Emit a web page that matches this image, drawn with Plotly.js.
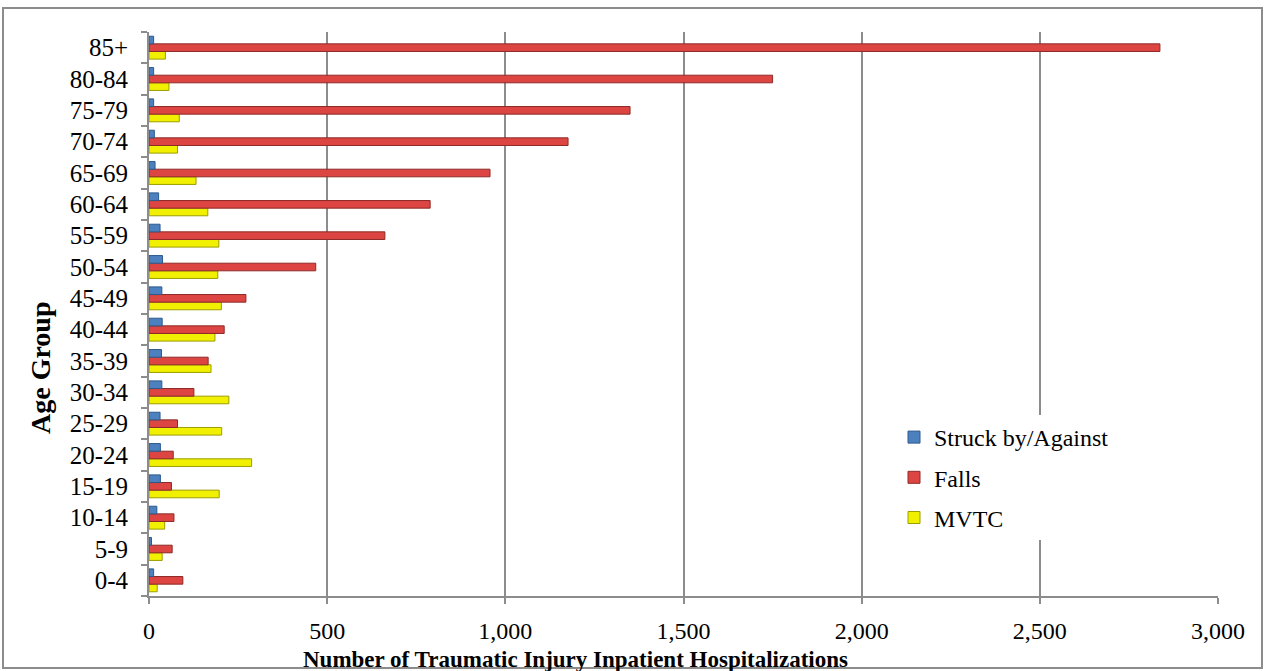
<!DOCTYPE html>
<html>
<head>
<meta charset="utf-8">
<script src="https://cdn.plot.ly/plotly-3.0.1.min.js"></script>
<style>
  html, body { margin: 0; padding: 0; background: #ffffff; }
  #chart { width: 1265px; height: 671px; }
</style>
</head>
<body>
<div id="chart"></div>
<script>
// Age groups, youngest first (drawn bottom to top)
const ageGroups = ['0-4', '5-9', '10-14', '15-19', '20-24', '25-29', '30-34', '35-39',
  '40-44', '45-49', '50-54', '55-59', '60-64', '65-69', '70-74', '75-79', '80-84', '85+'];

// Inpatient hospitalizations by leading cause
const struckBy = [13, 7, 22, 32, 32, 31, 36, 35, 37, 36, 38, 31, 27, 17, 15, 13, 13, 13];
const falls    = [95, 65, 70, 63, 68, 80, 126, 166, 211, 272, 468, 662, 789, 957, 1176, 1350, 1750, 2837];
const mvtc     = [23, 37, 44, 197, 288, 204, 224, 174, 185, 203, 193, 196, 165, 132, 80, 85, 56, 46];

const xTicks = [0, 500, 1000, 1500, 2000, 2500, 3000];

const serif = 'Liberation Serif, Times New Roman, serif';
const gray = '#8c8c8c';

function barTrace(name, values, fill, edge, rank) {
  return {
    type: 'bar',
    orientation: 'h',
    name: name,
    x: values,
    y: ageGroups,
    legendgroup: name,
    legendrank: rank,
    marker: { color: fill, line: { color: edge, width: 1 } },
    hoverinfo: 'x+name'
  };
}

// Bottom-to-top order inside each group: MVTC, Falls, Struck by/Against
const traces = [
  barTrace('MVTC', mvtc, '#F0F000', '#9E9E00', 3),
  barTrace('Falls', falls, '#DC4541', '#8E2A27', 2),
  barTrace('Struck by/Against', struckBy, '#4C80BE', '#2D5A8C', 1)
];

const layout = {
  width: 1265,
  height: 671,
  margin: { l: 149, r: 47, t: 32, b: 75 },
  paper_bgcolor: '#ffffff',
  plot_bgcolor: '#ffffff',
  font: { family: serif, color: '#000000', size: 24 },
  barmode: 'group',
  bargap: 0.27,
  bargroupgap: 0,
  showlegend: true,
  legend: {
    traceorder: 'grouped',
    x: (894 - 149) / 1069, xanchor: 'left',
    y: (596 - 415) / 564, yanchor: 'top',
    bgcolor: '#ffffff',
    borderwidth: 0,
    tracegroupgap: 6,
    font: { family: serif, size: 24, color: '#000000' }
  },
  xaxis: {
    range: [0, 3000],
    tickvals: xTicks,
    tickformat: ',d',
    showgrid: true,
    gridcolor: gray,
    gridwidth: 2,
    zeroline: false,
    showline: true,
    linecolor: gray,
    linewidth: 2,
    ticks: 'outside',
    ticklen: 6,
    tickwidth: 2,
    tickcolor: gray,
    ticklabelstandoff: 6,
    tickfont: { family: serif, size: 24, color: '#000000' },
    fixedrange: true
  },
  yaxis: {
    type: 'category',
    categoryorder: 'array',
    categoryarray: ageGroups,
    showgrid: false,
    zeroline: false,
    showline: true,
    linecolor: gray,
    linewidth: 2,
    ticks: 'outside',
    tickson: 'boundaries',
    ticklen: 6,
    tickwidth: 2,
    tickcolor: gray,
    ticklabelstandoff: 14,
    tickfont: { family: serif, size: 25, color: '#000000' },
    fixedrange: true
  },
  annotations: [
    {
      text: '<b>Number of Traumatic Injury Inpatient Hospitalizations</b>',
      xref: 'paper', yref: 'paper',
      x: (575 - 149) / 1069, y: (596 - 659) / 564,
      xanchor: 'center', yanchor: 'middle',
      showarrow: false,
      font: { family: serif, size: 23, color: '#000000' }
    },
    {
      text: '<b>Age Group</b>',
      xref: 'paper', yref: 'paper',
      x: (40 - 149) / 1069, y: (596 - 368) / 564,
      xanchor: 'center', yanchor: 'middle',
      textangle: -90,
      showarrow: false,
      font: { family: serif, size: 28, color: '#000000' }
    }
  ],
  shapes: [
    {
      type: 'rect', xref: 'paper', yref: 'paper',
      x0: (3 - 149) / 1069, x1: (1262 - 149) / 1069,
      y0: (596 - 668) / 564, y1: (596 - 8) / 564,
      line: { color: gray, width: 2 },
      fillcolor: 'rgba(0,0,0,0)',
      layer: 'below'
    }
  ]
};

Plotly.newPlot('chart', traces, layout, { displayModeBar: false, staticPlot: true });
</script>
</body>
</html>
